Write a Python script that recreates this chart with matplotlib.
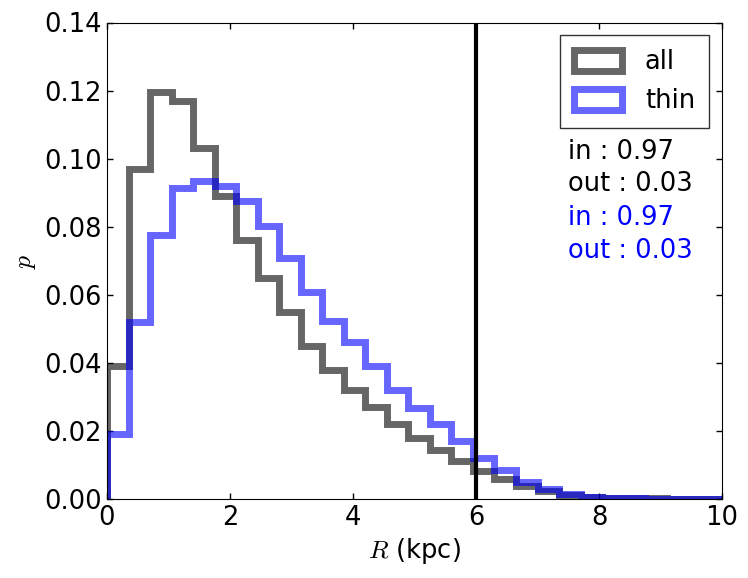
import numpy as np
import matplotlib
matplotlib.use('Agg')
import matplotlib.pyplot as plt

# bin edges (kpc) and per-bin probabilities
edges = np.arange(31) * 0.35
p_all = [0.039, 0.097, 0.1195, 0.117, 0.103, 0.089, 0.076, 0.065, 0.055, 0.045,
         0.038, 0.032, 0.027, 0.022, 0.018, 0.0143, 0.0111, 0.0082, 0.0058, 0.0038,
         0.0023, 0.0013, 0.0007, 0.0004, 0.0003, 0.0002, 0.0001, 0.0001, 0.0001, 0.0]
p_thin = [0.019, 0.052, 0.0775, 0.0915, 0.0934, 0.092, 0.0875, 0.0803, 0.0707, 0.0607,
          0.0523, 0.0461, 0.0392, 0.0321, 0.0266, 0.0219, 0.017, 0.0121, 0.0084, 0.0051,
          0.0028, 0.0014, 0.0006, 0.0003, 0.0002, 0.0001, 0.0001, 0.0, 0.0, 0.0]
r_cut = 6
frac_all = (0.97, 0.03)
frac_thin = (0.97, 0.03)

plt.rcParams['font.size'] = 18.5
plt.rcParams['mathtext.fontset'] = 'cm'

fig = plt.figure(figsize=(7.48, 5.78), dpi=100)
ax = fig.add_axes([107 / 748, 1 - 499 / 578, 615 / 748, 476.5 / 578])

centers = edges[:-1] + 0.175
ax.hist(centers, bins=edges, weights=p_all, histtype='step', color='k',
        alpha=0.6, lw=5, label='all')
ax.hist(centers, bins=edges, weights=p_thin, histtype='step', color='b',
        alpha=0.6, lw=5, label='thin')
ax.axvline(r_cut, color='k', lw=3)

ax.set_xlim(0, 10)
ax.set_ylim(0, 0.14)
ax.set_xticks([0, 2, 4, 6, 8, 10])
ax.set_yticks(np.arange(0, 0.141, 0.02))
ax.yaxis.set_major_formatter(matplotlib.ticker.FormatStrFormatter('%.2f'))
ax.tick_params(direction='in', top=True, right=True, length=4.5, width=1, pad=4)
ax.set_xlabel('$R$ (kpc)')
ax.set_ylabel('$p$')

leg = ax.legend(loc='upper right', fancybox=False, handlelength=1.85,
                handleheight=0.85, borderpad=0.55, labelspacing=0.5, handletextpad=0.9)
leg.get_frame().set_edgecolor('k')
leg.get_frame().set_linewidth(1)

ax.text(7.5, 0.102, 'in : %.2f' % frac_all[0], color='k', va='center')
ax.text(7.5, 0.0925, 'out : %.2f' % frac_all[1], color='k', va='center')
ax.text(7.5, 0.0826, 'in : %.2f' % frac_thin[0], color='b', va='center')
ax.text(7.5, 0.0728, 'out : %.2f' % frac_thin[1], color='b', va='center')

fig.savefig('out.png', dpi=100)
